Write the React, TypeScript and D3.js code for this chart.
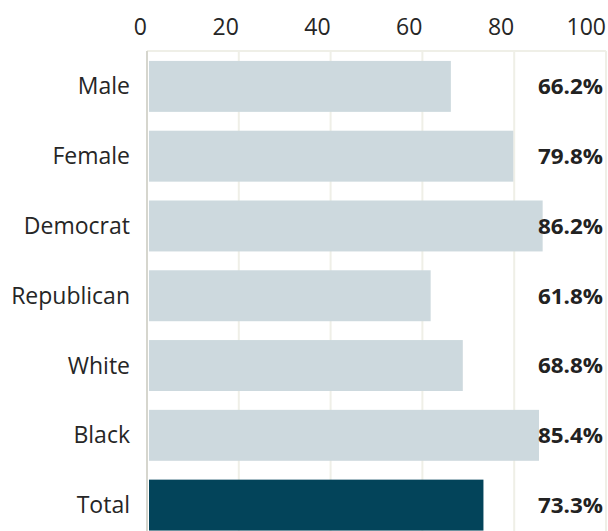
import React from "react";
import * as d3 from "d3";

const categories = ["Male", "Female", "Democrat", "Republican", "White", "Black", "Total"];
const values = [66.2, 79.8, 86.2, 61.8, 68.8, 85.4, 73.3];
const valueLabels = ["66.2%", "79.8%", "86.2%", "61.8%", "68.8%", "85.4%", "73.3%"];
const ticks = [0, 20, 40, 60, 80, 100];

const W = 608;
const H = 531;

export default function App() {
  const x = d3.scaleLinear().domain([0, 100]).range([147, 606]);
  const y = d3.scaleBand<string>().domain(categories).range([51.5, 540]).paddingInner(0.27).paddingOuter(0.135);

  return (
    <svg width={W} height={H} style={{ position: "absolute", left: 0, top: 0, background: "#fff" }}>
      {ticks.map((t) => (
        <line key={"g" + t} x1={x(t)} x2={x(t)} y1={51} y2={H} stroke="#efefe7" strokeWidth={2} />
      ))}
      <line x1={x(0)} x2={x(100)} y1={51} y2={51} stroke="#efefe7" strokeWidth={2} />
      <line x1={x(0)} x2={x(0)} y1={51} y2={H} stroke="#d6d6ce" strokeWidth={2} />
      {ticks.map((t) => (
        <text key={"t" + t} x={x(t)} y={35} textAnchor="end" fontFamily="'Open Sans', sans-serif" fontSize={23} fill="#262626">
          {t}
        </text>
      ))}
      {categories.map((c, i) => (
        <rect
          key={c}
          x={x(0) + 2}
          y={y(c)!}
          width={x(values[i]) - x(0) - 2}
          height={y.bandwidth()}
          fill={c === "Total" ? "#03445a" : "#cdd9de"}
        />
      ))}
      {categories.map((c) => (
        <text key={"l" + c} x={130} y={y(c)! + y.bandwidth() / 2} dy="0.35em" textAnchor="end" fontFamily="'Open Sans', sans-serif" fontSize={23} fill="#262626">
          {c}
        </text>
      ))}
      {categories.map((c, i) => (
        <text key={"v" + c} x={603} y={y(c)! + y.bandwidth() / 2} dy="0.36em" textAnchor="end" fontFamily="'Open Sans', sans-serif" fontWeight="bold" fontSize={22} fill="#222" textLength={65} lengthAdjust="spacingAndGlyphs">
          {valueLabels[i]}
        </text>
      ))}
    </svg>
  );
}
